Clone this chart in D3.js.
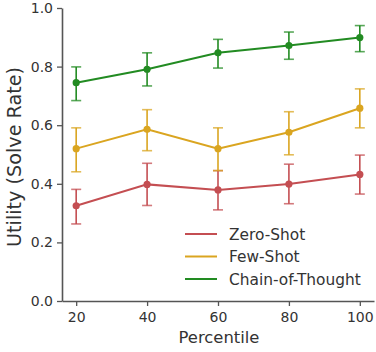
<!DOCTYPE html>
<html><head><meta charset="utf-8">
<script src="https://cdn.jsdelivr.net/npm/d3@7"></script>
<style>body{margin:0;background:#fff}svg{display:block;font-family:"DejaVu Sans",sans-serif}</style>
</head><body><svg id="c" width="376" height="352"></svg>
<script>
const percentiles = [20, 40, 60, 80, 100];
const seriesNames = ["Zero-Shot", "Few-Shot", "Chain-of-Thought"];
const seriesColors = ["#c44e52", "#daa520", "#228b22"];
const zeroShot = [0.325, 0.398, 0.379, 0.399, 0.432];
const zeroShotLo = [0.263, 0.326, 0.311, 0.332, 0.365];
const zeroShotHi = [0.381, 0.470, 0.445, 0.467, 0.498];
const fewShot = [0.520, 0.586, 0.520, 0.576, 0.658];
const fewShotLo = [0.441, 0.513, 0.445, 0.499, 0.591];
const fewShotHi = [0.591, 0.653, 0.591, 0.646, 0.724];
const cot = [0.745, 0.791, 0.847, 0.872, 0.899];
const cotLo = [0.684, 0.734, 0.795, 0.825, 0.851];
const cotHi = [0.799, 0.847, 0.893, 0.918, 0.940];
const yTicks = [0.0, 0.2, 0.4, 0.6, 0.8, 1.0];

const series = [
  {name: seriesNames[0], color: seriesColors[0], v: zeroShot, lo: zeroShotLo, hi: zeroShotHi},
  {name: seriesNames[1], color: seriesColors[1], v: fewShot, lo: fewShotLo, hi: fewShotHi},
  {name: seriesNames[2], color: seriesColors[2], v: cot, lo: cotLo, hi: cotHi}
];

const svg = d3.select("#c");
const L = 62, R = 374, T = 8, B = 301;
const x = d3.scaleLinear().domain([16, 104]).range([L, R]);
const y = d3.scaleLinear().domain([0, 1]).range([B, T]);
const axisColor = "#555";
const textColor = "#333";

function fit(sel, target) {
  const w = sel.node().getComputedTextLength();
  const fs = parseFloat(sel.style("font-size"));
  sel.style("font-size", (fs * target / w).toFixed(2) + "px");
}

const xa = svg.append("g").attr("transform", `translate(0,${B})`)
  .call(d3.axisBottom(x).tickValues(percentiles).tickSize(5).tickPadding(6).tickSizeOuter(0));
const ya = svg.append("g").attr("transform", `translate(${L},0)`)
  .call(d3.axisLeft(y).tickValues(yTicks).tickFormat(d3.format(".1f")).tickSize(5).tickPadding(4).tickSizeOuter(0));
[xa, ya].forEach(a => {
  a.selectAll("path").attr("stroke", axisColor).attr("stroke-width", 1.6);
  a.selectAll("line").attr("stroke", axisColor).attr("stroke-width", 1.3);
  a.selectAll("text").attr("fill", textColor).style("font-size", "14px").style("font-family", "DejaVu Sans");
});

const xl = svg.append("text").attr("x", (L + R) / 2 + 1).attr("y", 343).attr("text-anchor", "middle")
  .attr("fill", textColor).style("font-size", "16px").text("Percentile");
fit(xl, 81);
const yl = svg.append("text").attr("transform", `translate(21,157) rotate(-90)`).attr("text-anchor", "middle")
  .attr("fill", textColor).style("font-size", "16px").text("Utility (Solve Rate)");
fit(yl, 180);

const line = d3.line().x((d, i) => x(percentiles[i])).y(d => y(d));
series.forEach(s => {
  const g = svg.append("g");
  percentiles.forEach((p, i) => {
    const cx = x(p);
    g.append("line").attr("x1", cx).attr("x2", cx).attr("y1", y(s.lo[i])).attr("y2", y(s.hi[i]))
      .attr("stroke", s.color).attr("stroke-width", 1.6);
    [s.lo[i], s.hi[i]].forEach(e => {
      g.append("line").attr("x1", cx - 5).attr("x2", cx + 5).attr("y1", y(e)).attr("y2", y(e))
        .attr("stroke", s.color).attr("stroke-width", 1.6).attr("stroke-opacity", 0.75);
    });
  });
  g.append("path").datum(s.v).attr("d", line).attr("fill", "none").attr("stroke", s.color).attr("stroke-width", 2);
  g.selectAll("circle").data(s.v).join("circle").attr("cx", (d, i) => x(percentiles[i])).attr("cy", d => y(d))
    .attr("r", 3.6).attr("fill", s.color);
});

const lg = svg.append("g");
series.forEach((s, i) => {
  const yy = 234 + i * 22.5;
  lg.append("line").attr("x1", 185).attr("x2", 217).attr("y1", yy).attr("y2", yy).attr("stroke", s.color).attr("stroke-width", 2);
  lg.append("text").attr("x", 229).attr("y", yy + 5.5).attr("fill", textColor).style("font-size", "15.4px").text(s.name);
});
</script></body></html>
